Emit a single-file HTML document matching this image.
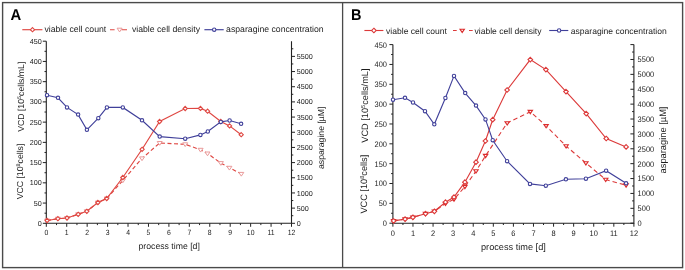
<!DOCTYPE html>
<html><head><meta charset="utf-8"><style>
html,body{margin:0;padding:0;background:#fff;}
svg{display:block;font-family:"Liberation Sans",sans-serif;text-rendering:geometricPrecision;filter:blur(0.35px);}
</style></head><body>
<svg width="685" height="270" viewBox="0 0 685 270">
<rect x="0" y="0" width="685" height="270" fill="#fff"/>
<rect x="2.6" y="2.6" width="680" height="265" fill="none" stroke="#4a4a4a" stroke-width="1.4"/>
<path d="M342.6 2.6V267.6" stroke="#4a4a4a" stroke-width="1.3"/>
<path d="M46.3 41.2V223.3H291.5V41.2" fill="none" stroke="#222" stroke-width="1.1"/>
<path d="M42.8 223.3H46.3M44.5 213.18H46.3M42.8 203.07H46.3M44.5 192.95H46.3M42.8 182.83H46.3M44.5 172.72H46.3M42.8 162.6H46.3M44.5 152.48H46.3M42.8 142.37H46.3M44.5 132.25H46.3M42.8 122.13H46.3M44.5 112.02H46.3M42.8 101.9H46.3M44.5 91.78H46.3M42.8 81.67H46.3M44.5 71.55H46.3M42.8 61.43H46.3M44.5 51.32H46.3M42.8 41.2H46.3M46.3 223.3V226.8M56.52 223.3V225.1M66.73 223.3V226.8M76.95 223.3V225.1M87.17 223.3V226.8M97.38 223.3V225.1M107.6 223.3V226.8M117.82 223.3V225.1M128.03 223.3V226.8M138.25 223.3V225.1M148.47 223.3V226.8M158.68 223.3V225.1M168.9 223.3V226.8M179.12 223.3V225.1M189.33 223.3V226.8M199.55 223.3V225.1M209.77 223.3V226.8M219.98 223.3V225.1M230.2 223.3V226.8M240.42 223.3V225.1M250.63 223.3V226.8M260.85 223.3V225.1M271.07 223.3V226.8M281.28 223.3V225.1M291.5 223.3V226.8M291.5 223.3H295M291.5 215.71H293.3M291.5 208.12H295M291.5 200.54H293.3M291.5 192.95H295M291.5 185.36H293.3M291.5 177.78H295M291.5 170.19H293.3M291.5 162.6H295M291.5 155.01H293.3M291.5 147.43H295M291.5 139.84H293.3M291.5 132.25H295M291.5 124.66H293.3M291.5 117.07H295M291.5 109.49H293.3M291.5 101.9H295M291.5 94.31H293.3M291.5 86.72H295M291.5 79.14H293.3M291.5 71.55H295M291.5 63.96H293.3M291.5 56.38H295M291.5 48.79H293.3" fill="none" stroke="#222" stroke-width="1.0"/>
<g font-size="7.2" fill="#1c1c1c"><text transform="translate(41.8 225.85) scale(1 1)" font-size="7.2" text-anchor="end">0</text><text transform="translate(41.8 205.62) scale(1 1)" font-size="7.2" text-anchor="end">50</text><text transform="translate(41.8 185.38) scale(1 1)" font-size="7.2" text-anchor="end">100</text><text transform="translate(41.8 165.15) scale(1 1)" font-size="7.2" text-anchor="end">150</text><text transform="translate(41.8 144.92) scale(1 1)" font-size="7.2" text-anchor="end">200</text><text transform="translate(41.8 124.68) scale(1 1)" font-size="7.2" text-anchor="end">250</text><text transform="translate(41.8 104.45) scale(1 1)" font-size="7.2" text-anchor="end">300</text><text transform="translate(41.8 84.22) scale(1 1)" font-size="7.2" text-anchor="end">350</text><text transform="translate(41.8 63.98) scale(1 1)" font-size="7.2" text-anchor="end">400</text><text transform="translate(41.8 43.75) scale(1 1)" font-size="7.2" text-anchor="end">450</text><text transform="translate(46.3 234.7) scale(0.9 1)" font-size="7.6" text-anchor="middle">0</text><text transform="translate(66.73 234.7) scale(0.9 1)" font-size="7.6" text-anchor="middle">1</text><text transform="translate(87.17 234.7) scale(0.9 1)" font-size="7.6" text-anchor="middle">2</text><text transform="translate(107.6 234.7) scale(0.9 1)" font-size="7.6" text-anchor="middle">3</text><text transform="translate(128.03 234.7) scale(0.9 1)" font-size="7.6" text-anchor="middle">4</text><text transform="translate(148.47 234.7) scale(0.9 1)" font-size="7.6" text-anchor="middle">5</text><text transform="translate(168.9 234.7) scale(0.9 1)" font-size="7.6" text-anchor="middle">6</text><text transform="translate(189.33 234.7) scale(0.9 1)" font-size="7.6" text-anchor="middle">7</text><text transform="translate(209.77 234.7) scale(0.9 1)" font-size="7.6" text-anchor="middle">8</text><text transform="translate(230.2 234.7) scale(0.9 1)" font-size="7.6" text-anchor="middle">9</text><text transform="translate(250.63 234.7) scale(0.9 1)" font-size="7.6" text-anchor="middle">10</text><text transform="translate(271.07 234.7) scale(0.9 1)" font-size="7.6" text-anchor="middle">11</text><text transform="translate(291.5 234.7) scale(0.9 1)" font-size="7.6" text-anchor="middle">12</text><text transform="translate(296.8 225.85) scale(1 1)" font-size="7.2">0</text><text transform="translate(296.8 210.68) scale(1 1)" font-size="7.2">500</text><text transform="translate(296.8 195.5) scale(1 1)" font-size="7.2">1000</text><text transform="translate(296.8 180.33) scale(1 1)" font-size="7.2">1500</text><text transform="translate(296.8 165.15) scale(1 1)" font-size="7.2">2000</text><text transform="translate(296.8 149.98) scale(1 1)" font-size="7.2">2500</text><text transform="translate(296.8 134.8) scale(1 1)" font-size="7.2">3000</text><text transform="translate(296.8 119.62) scale(1 1)" font-size="7.2">3500</text><text transform="translate(296.8 104.45) scale(1 1)" font-size="7.2">4000</text><text transform="translate(296.8 89.27) scale(1 1)" font-size="7.2">4500</text><text transform="translate(296.8 74.1) scale(1 1)" font-size="7.2">5000</text><text transform="translate(296.8 58.92) scale(1 1)" font-size="7.2">5500</text></g>
<g font-size="8.7" fill="#1c1c1c">
<text x="169.2" y="248.8" text-anchor="middle">process time [d]</text>
<text transform="translate(23.8 131.8) rotate(-90)">VCD [10<tspan font-size="5.39" dy="-3">5</tspan><tspan dy="3">cells/mL]</tspan></text>
<text transform="translate(22.9 199.3) rotate(-90)">VCC [10<tspan font-size="5.39" dy="-3">8</tspan><tspan dy="3">cells]</tspan></text>
<text transform="translate(323.5 169) rotate(-90)" font-size="8.7">asparagine [µM]</text>
</g>
<text transform="translate(10.6 20) scale(0.94 1)" font-size="15.8" font-weight="bold" fill="#000">A</text>
<path d="M22.3 29.7H42.4" stroke="#df4742" stroke-width="1.15"/>
<path d="M32.5 27.6L34.6 29.7L32.5 31.8L30.4 29.7Z" fill="#fff" stroke="#df4742" stroke-width="1.1"/>
<text x="44.4" y="32.1" font-size="8.7" fill="#1c1c1c">viable cell count</text>
<path d="M110 29.7H114.6M121.5 29.7H127" stroke="#df4742" stroke-width="1.15"/>
<path d="M117.1 28.2H122.1L119.6 31.95Z" fill="#fff" stroke="#e99a9a" stroke-width="1.0"/>
<text x="131.9" y="32.1" font-size="8.7" fill="#1c1c1c">viable cell density</text>
<path d="M204.4 29.7H223.7" stroke="#40409a" stroke-width="1.15"/>
<circle cx="214.2" cy="29.7" r="1.7" fill="#fff" stroke="#40409a" stroke-width="1.1"/>
<text x="226.1" y="32.1" font-size="8.7" fill="#1c1c1c">asparagine concentration</text>
<path d="M47.1 220.5 L57.9 218.7 L67 218 L78.2 214.3 L86.8 211.3 L97.9 202.5 L106.7 198.5 L122.8 180.5 L142 158.4 L159.7 143 L185.2 144.3 L200.6 149.8 L207.5 153.5 L220.9 163.1 L229.4 167.8 L241.3 173.9" fill="none" stroke="#df4742" stroke-width="1.15" stroke-dasharray="4 2.5"/>
<path d="M44.6 219H49.6L47.1 222.75Z" fill="#fff" stroke="#e99a9a" stroke-width="1.0"/>
<path d="M55.4 217.2H60.4L57.9 220.95Z" fill="#fff" stroke="#e99a9a" stroke-width="1.0"/>
<path d="M64.5 216.5H69.5L67 220.25Z" fill="#fff" stroke="#e99a9a" stroke-width="1.0"/>
<path d="M75.7 212.8H80.7L78.2 216.55Z" fill="#fff" stroke="#e99a9a" stroke-width="1.0"/>
<path d="M84.3 209.8H89.3L86.8 213.55Z" fill="#fff" stroke="#e99a9a" stroke-width="1.0"/>
<path d="M95.4 201H100.4L97.9 204.75Z" fill="#fff" stroke="#e99a9a" stroke-width="1.0"/>
<path d="M104.2 197H109.2L106.7 200.75Z" fill="#fff" stroke="#e99a9a" stroke-width="1.0"/>
<path d="M120.3 179H125.3L122.8 182.75Z" fill="#fff" stroke="#e99a9a" stroke-width="1.0"/>
<path d="M139.5 156.9H144.5L142 160.65Z" fill="#fff" stroke="#e99a9a" stroke-width="1.0"/>
<path d="M157.2 141.5H162.2L159.7 145.25Z" fill="#fff" stroke="#e99a9a" stroke-width="1.0"/>
<path d="M182.7 142.8H187.7L185.2 146.55Z" fill="#fff" stroke="#e99a9a" stroke-width="1.0"/>
<path d="M198.1 148.3H203.1L200.6 152.05Z" fill="#fff" stroke="#e99a9a" stroke-width="1.0"/>
<path d="M205 152H210L207.5 155.75Z" fill="#fff" stroke="#e99a9a" stroke-width="1.0"/>
<path d="M218.4 161.6H223.4L220.9 165.35Z" fill="#fff" stroke="#e99a9a" stroke-width="1.0"/>
<path d="M226.9 166.3H231.9L229.4 170.05Z" fill="#fff" stroke="#e99a9a" stroke-width="1.0"/>
<path d="M238.8 172.4H243.8L241.3 176.15Z" fill="#fff" stroke="#e99a9a" stroke-width="1.0"/>
<path d="M47.1 220.5 L57.9 218.7 L67 218 L78.2 214.3 L86.8 211.3 L97.9 202.5 L106.7 198.5 L122.8 177.5 L142.1 149.3 L159.6 121.5 L185.2 108.5 L200.5 108.4 L207.6 111.2 L220.8 121.5 L229.6 125.9 L241.2 134.7" fill="none" stroke="#df4742" stroke-width="1.15"/>
<path d="M47.1 218.4L49.2 220.5L47.1 222.6L45 220.5Z" fill="#fff" stroke="#df4742" stroke-width="1.1"/>
<path d="M57.9 216.6L60 218.7L57.9 220.8L55.8 218.7Z" fill="#fff" stroke="#df4742" stroke-width="1.1"/>
<path d="M67 215.9L69.1 218L67 220.1L64.9 218Z" fill="#fff" stroke="#df4742" stroke-width="1.1"/>
<path d="M78.2 212.2L80.3 214.3L78.2 216.4L76.1 214.3Z" fill="#fff" stroke="#df4742" stroke-width="1.1"/>
<path d="M86.8 209.2L88.9 211.3L86.8 213.4L84.7 211.3Z" fill="#fff" stroke="#df4742" stroke-width="1.1"/>
<path d="M97.9 200.4L100 202.5L97.9 204.6L95.8 202.5Z" fill="#fff" stroke="#df4742" stroke-width="1.1"/>
<path d="M106.7 196.4L108.8 198.5L106.7 200.6L104.6 198.5Z" fill="#fff" stroke="#df4742" stroke-width="1.1"/>
<path d="M122.8 175.4L124.9 177.5L122.8 179.6L120.7 177.5Z" fill="#fff" stroke="#df4742" stroke-width="1.1"/>
<path d="M142.1 147.2L144.2 149.3L142.1 151.4L140 149.3Z" fill="#fff" stroke="#df4742" stroke-width="1.1"/>
<path d="M159.6 119.4L161.7 121.5L159.6 123.6L157.5 121.5Z" fill="#fff" stroke="#df4742" stroke-width="1.1"/>
<path d="M185.2 106.4L187.3 108.5L185.2 110.6L183.1 108.5Z" fill="#fff" stroke="#df4742" stroke-width="1.1"/>
<path d="M200.5 106.3L202.6 108.4L200.5 110.5L198.4 108.4Z" fill="#fff" stroke="#df4742" stroke-width="1.1"/>
<path d="M207.6 109.1L209.7 111.2L207.6 113.3L205.5 111.2Z" fill="#fff" stroke="#df4742" stroke-width="1.1"/>
<path d="M220.8 119.4L222.9 121.5L220.8 123.6L218.7 121.5Z" fill="#fff" stroke="#df4742" stroke-width="1.1"/>
<path d="M229.6 123.8L231.7 125.9L229.6 128L227.5 125.9Z" fill="#fff" stroke="#df4742" stroke-width="1.1"/>
<path d="M241.2 132.6L243.3 134.7L241.2 136.8L239.1 134.7Z" fill="#fff" stroke="#df4742" stroke-width="1.1"/>
<path d="M47 95.2 L58 97.8 L67 107.4 L78.1 114.6 L86.9 129.8 L98.3 118.2 L106.9 107.4 L122.8 107.4 L142 120.3 L159.7 136.6 L185.2 138.7 L200.4 134.9 L207.8 131.5 L220.8 121.9 L229.6 120.5 L241.1 123.8" fill="none" stroke="#40409a" stroke-width="1.15"/>
<circle cx="47" cy="95.2" r="1.7" fill="#fff" stroke="#40409a" stroke-width="1.1"/>
<circle cx="58" cy="97.8" r="1.7" fill="#fff" stroke="#40409a" stroke-width="1.1"/>
<circle cx="67" cy="107.4" r="1.7" fill="#fff" stroke="#40409a" stroke-width="1.1"/>
<circle cx="78.1" cy="114.6" r="1.7" fill="#fff" stroke="#40409a" stroke-width="1.1"/>
<circle cx="86.9" cy="129.8" r="1.7" fill="#fff" stroke="#40409a" stroke-width="1.1"/>
<circle cx="98.3" cy="118.2" r="1.7" fill="#fff" stroke="#40409a" stroke-width="1.1"/>
<circle cx="106.9" cy="107.4" r="1.7" fill="#fff" stroke="#40409a" stroke-width="1.1"/>
<circle cx="122.8" cy="107.4" r="1.7" fill="#fff" stroke="#40409a" stroke-width="1.1"/>
<circle cx="142" cy="120.3" r="1.7" fill="#fff" stroke="#40409a" stroke-width="1.1"/>
<circle cx="159.7" cy="136.6" r="1.7" fill="#fff" stroke="#40409a" stroke-width="1.1"/>
<circle cx="185.2" cy="138.7" r="1.7" fill="#fff" stroke="#40409a" stroke-width="1.1"/>
<circle cx="200.4" cy="134.9" r="1.7" fill="#fff" stroke="#40409a" stroke-width="1.1"/>
<circle cx="207.8" cy="131.5" r="1.7" fill="#fff" stroke="#40409a" stroke-width="1.1"/>
<circle cx="220.8" cy="121.9" r="1.7" fill="#fff" stroke="#40409a" stroke-width="1.1"/>
<circle cx="229.6" cy="120.5" r="1.7" fill="#fff" stroke="#40409a" stroke-width="1.1"/>
<circle cx="241.1" cy="123.8" r="1.7" fill="#fff" stroke="#40409a" stroke-width="1.1"/>
<path d="M392.9 44.6V223.2H633.9V44.6" fill="none" stroke="#222" stroke-width="1.1"/>
<path d="M389.4 223.2H392.9M391.1 213.28H392.9M389.4 203.36H392.9M391.1 193.43H392.9M389.4 183.51H392.9M391.1 173.59H392.9M389.4 163.67H392.9M391.1 153.74H392.9M389.4 143.82H392.9M391.1 133.9H392.9M389.4 123.98H392.9M391.1 114.06H392.9M389.4 104.13H392.9M391.1 94.21H392.9M389.4 84.29H392.9M391.1 74.37H392.9M389.4 64.44H392.9M391.1 54.52H392.9M389.4 44.6H392.9M392.9 223.2V226.7M402.94 223.2V225M412.98 223.2V226.7M423.02 223.2V225M433.07 223.2V226.7M443.11 223.2V225M453.15 223.2V226.7M463.19 223.2V225M473.23 223.2V226.7M483.27 223.2V225M493.32 223.2V226.7M503.36 223.2V225M513.4 223.2V226.7M523.44 223.2V225M533.48 223.2V226.7M543.52 223.2V225M553.57 223.2V226.7M563.61 223.2V225M573.65 223.2V226.7M583.69 223.2V225M593.73 223.2V226.7M603.77 223.2V225M613.82 223.2V226.7M623.86 223.2V225M633.9 223.2V226.7M633.9 223.2H630.4M633.9 215.76H632.1M633.9 208.32H630.4M633.9 200.88H632.1M633.9 193.43H630.4M633.9 185.99H632.1M633.9 178.55H630.4M633.9 171.11H632.1M633.9 163.67H630.4M633.9 156.22H632.1M633.9 148.78H630.4M633.9 141.34H632.1M633.9 133.9H630.4M633.9 126.46H632.1M633.9 119.02H630.4M633.9 111.57H632.1M633.9 104.13H630.4M633.9 96.69H632.1M633.9 89.25H630.4M633.9 81.81H632.1M633.9 74.37H630.4M633.9 66.92H632.1M633.9 59.48H630.4M633.9 52.04H632.1M633.9 44.6H630.4" fill="none" stroke="#222" stroke-width="1.0"/>
<g font-size="7.4" fill="#1c1c1c"><text transform="translate(387 226.1) scale(0.93 1)" font-size="8.0" text-anchor="end">0</text><text transform="translate(387 206.26) scale(0.93 1)" font-size="8.0" text-anchor="end">50</text><text transform="translate(387 186.41) scale(0.93 1)" font-size="8.0" text-anchor="end">100</text><text transform="translate(387 166.57) scale(0.93 1)" font-size="8.0" text-anchor="end">150</text><text transform="translate(387 146.72) scale(0.93 1)" font-size="8.0" text-anchor="end">200</text><text transform="translate(387 126.88) scale(0.93 1)" font-size="8.0" text-anchor="end">250</text><text transform="translate(387 107.03) scale(0.93 1)" font-size="8.0" text-anchor="end">300</text><text transform="translate(387 87.19) scale(0.93 1)" font-size="8.0" text-anchor="end">350</text><text transform="translate(387 67.34) scale(0.93 1)" font-size="8.0" text-anchor="end">400</text><text transform="translate(387 47.5) scale(0.93 1)" font-size="8.0" text-anchor="end">450</text><text transform="translate(392.9 235.9) scale(0.93 1)" font-size="8.0" text-anchor="middle">0</text><text transform="translate(412.98 235.9) scale(0.93 1)" font-size="8.0" text-anchor="middle">1</text><text transform="translate(433.07 235.9) scale(0.93 1)" font-size="8.0" text-anchor="middle">2</text><text transform="translate(453.15 235.9) scale(0.93 1)" font-size="8.0" text-anchor="middle">3</text><text transform="translate(473.23 235.9) scale(0.93 1)" font-size="8.0" text-anchor="middle">4</text><text transform="translate(493.32 235.9) scale(0.93 1)" font-size="8.0" text-anchor="middle">5</text><text transform="translate(513.4 235.9) scale(0.93 1)" font-size="8.0" text-anchor="middle">6</text><text transform="translate(533.48 235.9) scale(0.93 1)" font-size="8.0" text-anchor="middle">7</text><text transform="translate(553.57 235.9) scale(0.93 1)" font-size="8.0" text-anchor="middle">8</text><text transform="translate(573.65 235.9) scale(0.93 1)" font-size="8.0" text-anchor="middle">9</text><text transform="translate(593.73 235.9) scale(0.93 1)" font-size="8.0" text-anchor="middle">10</text><text transform="translate(613.82 235.9) scale(0.93 1)" font-size="8.0" text-anchor="middle">11</text><text transform="translate(633.9 235.9) scale(0.93 1)" font-size="8.0" text-anchor="middle">12</text><text transform="translate(637.6 226.1) scale(0.93 1)" font-size="8.0">0</text><text transform="translate(637.6 211.22) scale(0.93 1)" font-size="8.0">500</text><text transform="translate(637.6 196.33) scale(0.93 1)" font-size="8.0">1000</text><text transform="translate(637.6 181.45) scale(0.93 1)" font-size="8.0">1500</text><text transform="translate(637.6 166.57) scale(0.93 1)" font-size="8.0">2000</text><text transform="translate(637.6 151.68) scale(0.93 1)" font-size="8.0">2500</text><text transform="translate(637.6 136.8) scale(0.93 1)" font-size="8.0">3000</text><text transform="translate(637.6 121.92) scale(0.93 1)" font-size="8.0">3500</text><text transform="translate(637.6 107.03) scale(0.93 1)" font-size="8.0">4000</text><text transform="translate(637.6 92.15) scale(0.93 1)" font-size="8.0">4500</text><text transform="translate(637.6 77.27) scale(0.93 1)" font-size="8.0">5000</text><text transform="translate(637.6 62.38) scale(0.93 1)" font-size="8.0">5500</text></g>
<g font-size="9.2" fill="#1c1c1c">
<text x="513.4" y="250" text-anchor="middle">process time [d]</text>
<text transform="translate(368 142.7) rotate(-90)">VCD [10<tspan font-size="5.70" dy="-3">5</tspan><tspan dy="3">cells/mL]</tspan></text>
<text transform="translate(367.3 213.6) rotate(-90)">VCC [10<tspan font-size="5.70" dy="-3">8</tspan><tspan dy="3">cells]</tspan></text>
<text transform="translate(666.3 173.4) rotate(-90)" font-size="9.3">asparagine [µM]</text>
</g>
<text transform="translate(351 20) scale(0.93 1)" font-size="15.6" font-weight="bold" fill="#000">B</text>
<path d="M364.4 30.5H383.4" stroke="#dc3a3a" stroke-width="1.12"/>
<path d="M373.9 28.2L376.2 30.5L373.9 32.8L371.6 30.5Z" fill="#fff" stroke="#dc3a3a" stroke-width="1.1"/>
<text x="386.1" y="33.6" font-size="8.55" fill="#1c1c1c">viable cell count</text>
<path d="M453 30.5H456.7M469 30.5H472.7" stroke="#dc3a3a" stroke-width="1.12"/>
<path d="M460 29.18H464.4L462.2 32.48Z" fill="#fff" stroke="#dc2c2c" stroke-width="1.1"/>
<text x="474.5" y="33.6" font-size="8.55" fill="#1c1c1c">viable cell density</text>
<path d="M549.2 30.5H568.3" stroke="#40409a" stroke-width="1.12"/>
<circle cx="559.1" cy="30.5" r="1.7" fill="#fff" stroke="#40409a" stroke-width="1.1"/>
<text x="570.8" y="33.6" font-size="8.55" fill="#1c1c1c">asparagine concentration</text>
<path d="M393.6 220.9 L405.1 219.1 L412.9 217.3 L425.5 213.7 L434.4 211.3 L445.5 203.5 L454 199.3 L464.9 186.7 L476 171.1 L485.6 155.7 L507.2 123 L530.3 111.7 L546.1 125.9 L566.1 146.1 L585.9 163 L605.7 179.6 L626.1 185.2" fill="none" stroke="#dc3a3a" stroke-width="1.12" stroke-dasharray="4.5 3"/>
<path d="M391.4 219.58H395.8L393.6 222.88Z" fill="#fff" stroke="#dc2c2c" stroke-width="1.1"/>
<path d="M402.9 217.78H407.3L405.1 221.08Z" fill="#fff" stroke="#dc2c2c" stroke-width="1.1"/>
<path d="M410.7 215.98H415.1L412.9 219.28Z" fill="#fff" stroke="#dc2c2c" stroke-width="1.1"/>
<path d="M423.3 212.38H427.7L425.5 215.68Z" fill="#fff" stroke="#dc2c2c" stroke-width="1.1"/>
<path d="M432.2 209.98H436.6L434.4 213.28Z" fill="#fff" stroke="#dc2c2c" stroke-width="1.1"/>
<path d="M443.3 202.18H447.7L445.5 205.48Z" fill="#fff" stroke="#dc2c2c" stroke-width="1.1"/>
<path d="M451.8 197.98H456.2L454 201.28Z" fill="#fff" stroke="#dc2c2c" stroke-width="1.1"/>
<path d="M462.7 185.38H467.1L464.9 188.68Z" fill="#fff" stroke="#dc2c2c" stroke-width="1.1"/>
<path d="M473.8 169.78H478.2L476 173.08Z" fill="#fff" stroke="#dc2c2c" stroke-width="1.1"/>
<path d="M483.4 154.38H487.8L485.6 157.68Z" fill="#fff" stroke="#dc2c2c" stroke-width="1.1"/>
<path d="M505 121.68H509.4L507.2 124.98Z" fill="#fff" stroke="#dc2c2c" stroke-width="1.1"/>
<path d="M528.1 110.38H532.5L530.3 113.68Z" fill="#fff" stroke="#dc2c2c" stroke-width="1.1"/>
<path d="M543.9 124.58H548.3L546.1 127.88Z" fill="#fff" stroke="#dc2c2c" stroke-width="1.1"/>
<path d="M563.9 144.78H568.3L566.1 148.08Z" fill="#fff" stroke="#dc2c2c" stroke-width="1.1"/>
<path d="M583.7 161.68H588.1L585.9 164.98Z" fill="#fff" stroke="#dc2c2c" stroke-width="1.1"/>
<path d="M603.5 178.28H607.9L605.7 181.58Z" fill="#fff" stroke="#dc2c2c" stroke-width="1.1"/>
<path d="M623.9 183.88H628.3L626.1 187.18Z" fill="#fff" stroke="#dc2c2c" stroke-width="1.1"/>
<path d="M393.6 220.9 L405.1 219.1 L412.9 217.3 L425.5 213.7 L434.4 211.3 L445.5 202.2 L454 197.1 L464.9 182.2 L476 162.2 L485.4 141 L492.7 119.7 L507.1 90 L530.3 59.6 L545.9 69.6 L566 91.6 L586.2 113.6 L606.2 138.5 L626.1 146.9" fill="none" stroke="#dc3a3a" stroke-width="1.12"/>
<path d="M393.6 218.6L395.9 220.9L393.6 223.2L391.3 220.9Z" fill="#fff" stroke="#dc3a3a" stroke-width="1.1"/>
<path d="M405.1 216.8L407.4 219.1L405.1 221.4L402.8 219.1Z" fill="#fff" stroke="#dc3a3a" stroke-width="1.1"/>
<path d="M412.9 215L415.2 217.3L412.9 219.6L410.6 217.3Z" fill="#fff" stroke="#dc3a3a" stroke-width="1.1"/>
<path d="M425.5 211.4L427.8 213.7L425.5 216L423.2 213.7Z" fill="#fff" stroke="#dc3a3a" stroke-width="1.1"/>
<path d="M434.4 209L436.7 211.3L434.4 213.6L432.1 211.3Z" fill="#fff" stroke="#dc3a3a" stroke-width="1.1"/>
<path d="M445.5 199.9L447.8 202.2L445.5 204.5L443.2 202.2Z" fill="#fff" stroke="#dc3a3a" stroke-width="1.1"/>
<path d="M454 194.8L456.3 197.1L454 199.4L451.7 197.1Z" fill="#fff" stroke="#dc3a3a" stroke-width="1.1"/>
<path d="M464.9 179.9L467.2 182.2L464.9 184.5L462.6 182.2Z" fill="#fff" stroke="#dc3a3a" stroke-width="1.1"/>
<path d="M476 159.9L478.3 162.2L476 164.5L473.7 162.2Z" fill="#fff" stroke="#dc3a3a" stroke-width="1.1"/>
<path d="M485.4 138.7L487.7 141L485.4 143.3L483.1 141Z" fill="#fff" stroke="#dc3a3a" stroke-width="1.1"/>
<path d="M492.7 117.4L495 119.7L492.7 122L490.4 119.7Z" fill="#fff" stroke="#dc3a3a" stroke-width="1.1"/>
<path d="M507.1 87.7L509.4 90L507.1 92.3L504.8 90Z" fill="#fff" stroke="#dc3a3a" stroke-width="1.1"/>
<path d="M530.3 57.3L532.6 59.6L530.3 61.9L528 59.6Z" fill="#fff" stroke="#dc3a3a" stroke-width="1.1"/>
<path d="M545.9 67.3L548.2 69.6L545.9 71.9L543.6 69.6Z" fill="#fff" stroke="#dc3a3a" stroke-width="1.1"/>
<path d="M566 89.3L568.3 91.6L566 93.9L563.7 91.6Z" fill="#fff" stroke="#dc3a3a" stroke-width="1.1"/>
<path d="M586.2 111.3L588.5 113.6L586.2 115.9L583.9 113.6Z" fill="#fff" stroke="#dc3a3a" stroke-width="1.1"/>
<path d="M606.2 136.2L608.5 138.5L606.2 140.8L603.9 138.5Z" fill="#fff" stroke="#dc3a3a" stroke-width="1.1"/>
<path d="M626.1 144.6L628.4 146.9L626.1 149.2L623.8 146.9Z" fill="#fff" stroke="#dc3a3a" stroke-width="1.1"/>
<path d="M393 99.7 L405 97.8 L413 102.5 L425 111.2 L434.3 124.3 L445.4 98 L454 75.9 L465.2 93.1 L476 105.6 L485.5 119.4 L492.7 140.2 L507.1 161.2 L530 183.9 L545.8 185.7 L565.9 179.3 L585.9 178.7 L606.1 170.7 L626.1 183.3" fill="none" stroke="#40409a" stroke-width="1.12"/>
<circle cx="393" cy="99.7" r="1.7" fill="#fff" stroke="#40409a" stroke-width="1.1"/>
<circle cx="405" cy="97.8" r="1.7" fill="#fff" stroke="#40409a" stroke-width="1.1"/>
<circle cx="413" cy="102.5" r="1.7" fill="#fff" stroke="#40409a" stroke-width="1.1"/>
<circle cx="425" cy="111.2" r="1.7" fill="#fff" stroke="#40409a" stroke-width="1.1"/>
<circle cx="434.3" cy="124.3" r="1.7" fill="#fff" stroke="#40409a" stroke-width="1.1"/>
<circle cx="445.4" cy="98" r="1.7" fill="#fff" stroke="#40409a" stroke-width="1.1"/>
<circle cx="454" cy="75.9" r="1.7" fill="#fff" stroke="#40409a" stroke-width="1.1"/>
<circle cx="465.2" cy="93.1" r="1.7" fill="#fff" stroke="#40409a" stroke-width="1.1"/>
<circle cx="476" cy="105.6" r="1.7" fill="#fff" stroke="#40409a" stroke-width="1.1"/>
<circle cx="485.5" cy="119.4" r="1.7" fill="#fff" stroke="#40409a" stroke-width="1.1"/>
<circle cx="492.7" cy="140.2" r="1.7" fill="#fff" stroke="#40409a" stroke-width="1.1"/>
<circle cx="507.1" cy="161.2" r="1.7" fill="#fff" stroke="#40409a" stroke-width="1.1"/>
<circle cx="530" cy="183.9" r="1.7" fill="#fff" stroke="#40409a" stroke-width="1.1"/>
<circle cx="545.8" cy="185.7" r="1.7" fill="#fff" stroke="#40409a" stroke-width="1.1"/>
<circle cx="565.9" cy="179.3" r="1.7" fill="#fff" stroke="#40409a" stroke-width="1.1"/>
<circle cx="585.9" cy="178.7" r="1.7" fill="#fff" stroke="#40409a" stroke-width="1.1"/>
<circle cx="606.1" cy="170.7" r="1.7" fill="#fff" stroke="#40409a" stroke-width="1.1"/>
<circle cx="626.1" cy="183.3" r="1.7" fill="#fff" stroke="#40409a" stroke-width="1.1"/>
</svg>
</body></html>
